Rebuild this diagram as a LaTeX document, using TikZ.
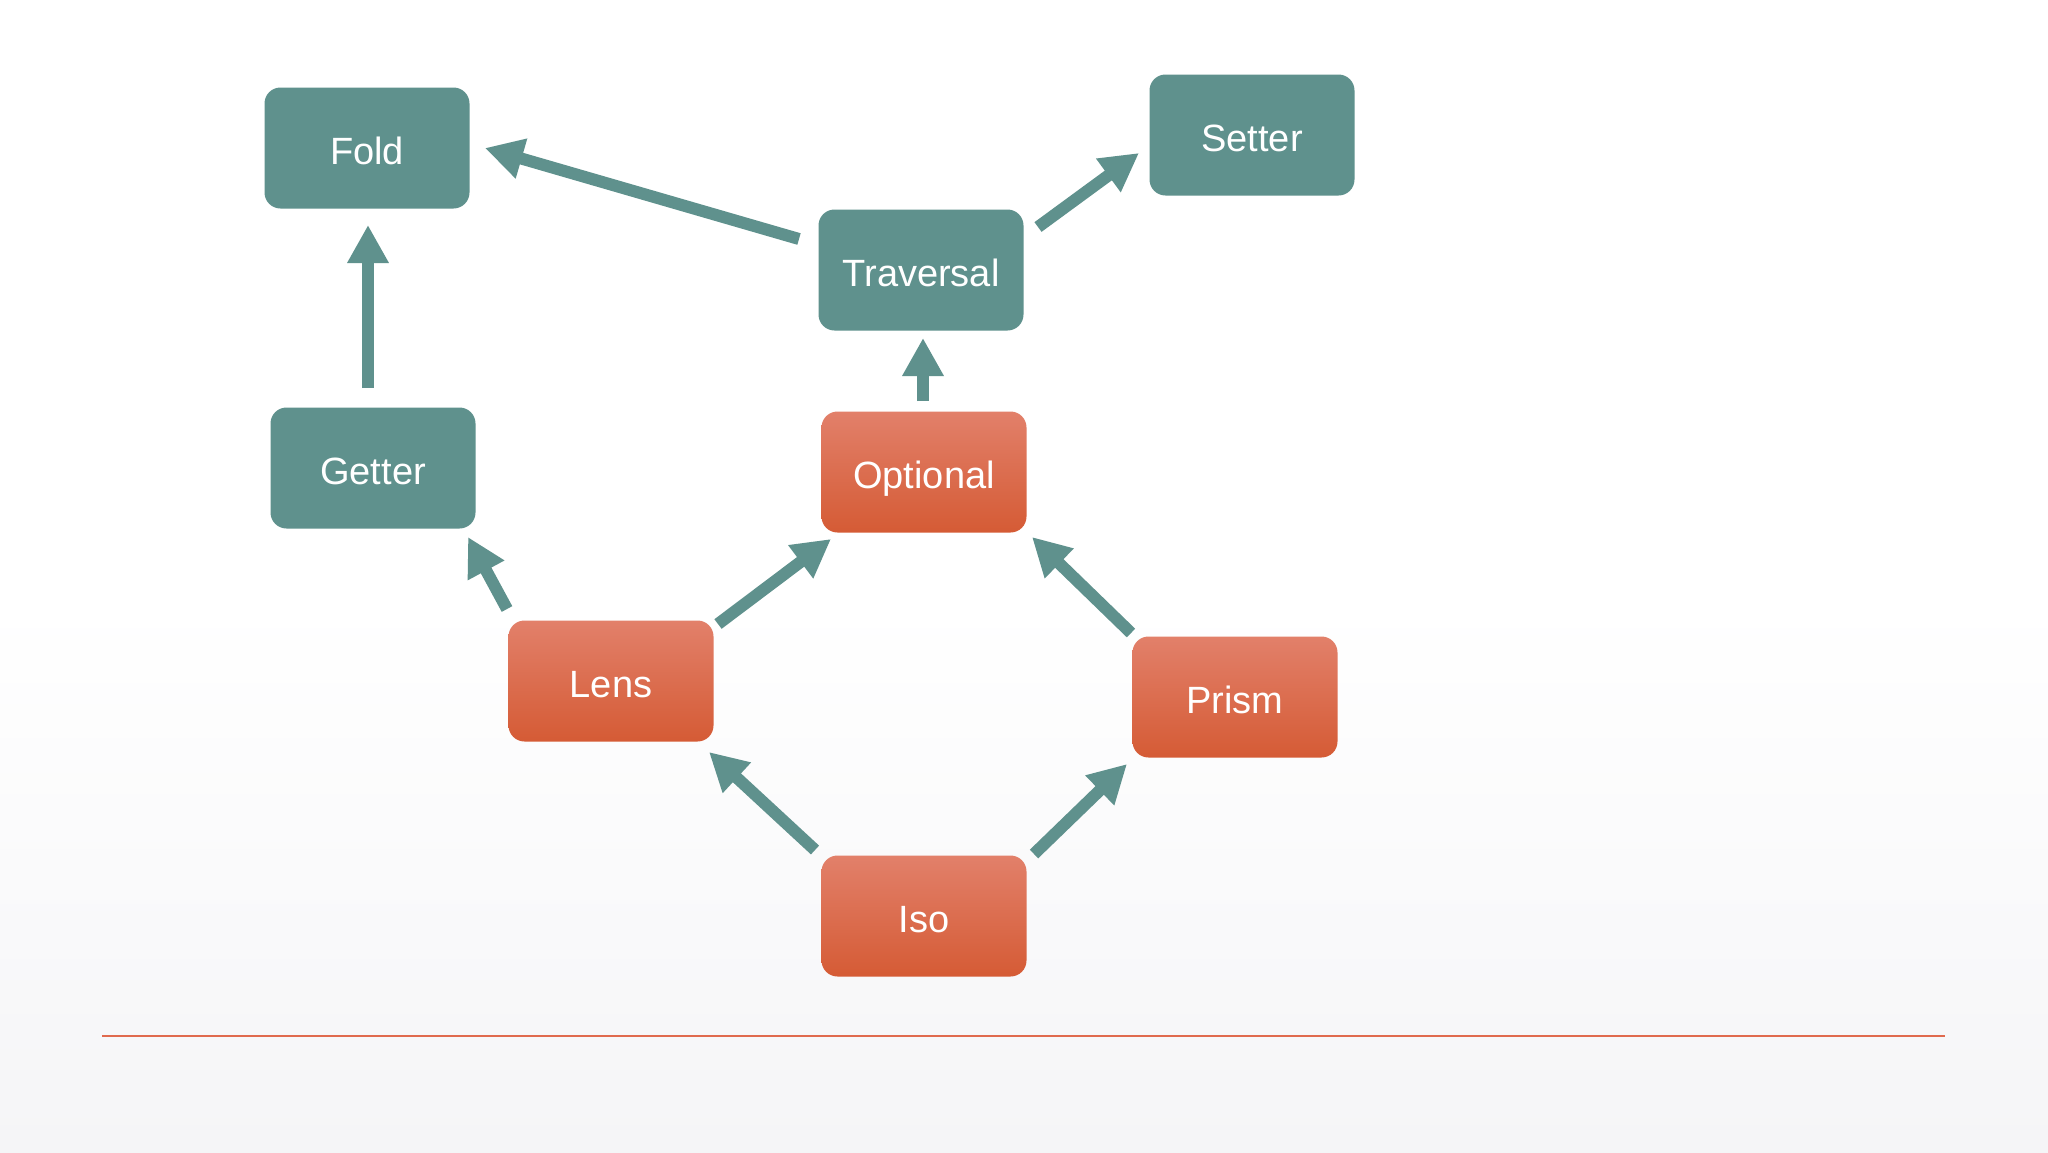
\documentclass[tikz,border=0pt]{standalone}
\usepackage{fontspec}
\setmainfont{Liberation Sans}
\usetikzlibrary{arrows.meta}
\definecolor{tealbox}{HTML}{5F918D}
\definecolor{orgtop}{HTML}{E2806A}
\definecolor{orgbot}{HTML}{D55B35}
\definecolor{rule}{HTML}{E06A4E}
\definecolor{bgbot}{HTML}{F5F5F7}
\tikzset{
  box/.style={rounded corners=8pt, minimum width=102.5pt, minimum height=60.5pt,
    inner sep=0pt, text=white, text height=16pt, text depth=0pt,
    font=\fontsize{19}{22}\selectfont},
  tealstyle/.style={box, fill=tealbox},
  orgstyle/.style={box, top color=orgtop, bottom color=orgbot},
  arr/.style={draw=tealbox, line width=6pt,
    -{Triangle[length=19pt,width=19.5pt]}}
}
\begin{document}
\begin{tikzpicture}[x=0.5pt,y=-0.5pt]
\useasboundingbox (0,0) rectangle (2048,1152);
\fill[white] (0,0) rectangle (2048,600);
\shade[top color=white, bottom color=bgbot] (0,600) rectangle (2048,1152);

\node[tealstyle] (fold) at (367,148) {Fold};
\node[tealstyle] (setter) at (1252,135) {Setter};
\node[tealstyle] (trav) at (921,270) {Traversal};
\node[tealstyle] (getter) at (373,468) {Getter};
\node[orgstyle] (opt) at (924,472) {Optional};
\node[orgstyle] (lens) at (611,681) {Lens};
\node[orgstyle] (prism) at (1235,697) {Prism};
\node[orgstyle] (iso) at (924,916) {Iso};

\draw[arr] ([shift={(-5,-80)}]getter.center) -- ([shift={(1,77)}]fold.center);
\draw[arr] ([shift={(-122,-31)}]trav.center) -- ([shift={(118,0)}]fold.center);
\draw[arr] ([shift={(117,-43)}]trav.center) -- ([shift={(-113,18)}]setter.center);
\draw[arr] ([shift={(-1,-71)}]opt.center) -- ([shift={(2,68)}]trav.center);
\draw[arr] ([shift={(-104,-72)}]lens.center) -- ([shift={(95,69)}]getter.center);
\draw[arr] ([shift={(107,-57)}]lens.center) -- ([shift={(-93,67)}]opt.center);
\draw[arr] ([shift={(-104,-64)}]prism.center) -- ([shift={(108,65)}]opt.center);
\draw[arr] ([shift={(-109,-66)}]iso.center) -- ([shift={(98,71)}]lens.center);
\draw[arr] ([shift={(110,-62)}]iso.center) -- ([shift={(-108,67)}]prism.center);

\coordinate (ruleL) at (102,1036);
\coordinate (ruleR) at (1945,1036);
\draw[rule, line width=1.1pt] (ruleL) -- (ruleR);
\end{tikzpicture}
\end{document}
